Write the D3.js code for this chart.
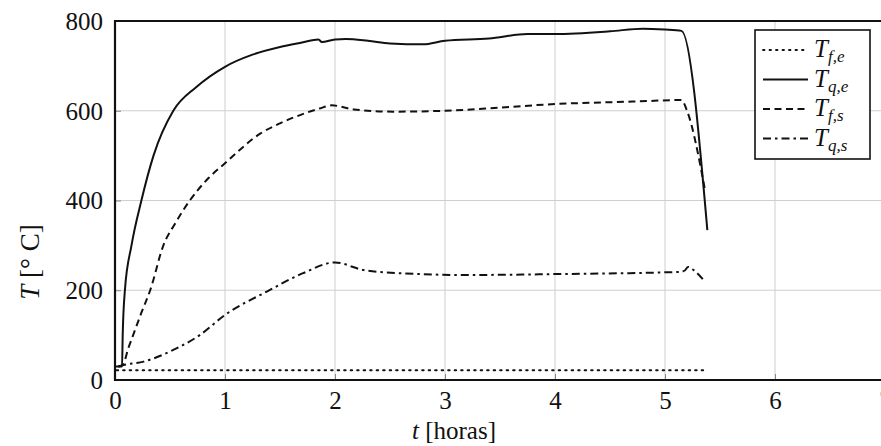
<!DOCTYPE html>
<meta charset="utf-8">
<html>
<head>
<title>Temperaturas</title>
</head>
<style>
  body { margin: 0; background: #fff; }
  svg { display: block; }
  .grid line { stroke: #cfcfcf; stroke-width: 1; }
  .curve { fill: none; stroke: #111; stroke-width: 2; stroke-linejoin: round; }
</style>
<script src="https://d3js.org/d3.v7.min.js"></script>
<body>
<svg width="881" height="446"></svg>
</body>
<script>
  var svg = d3.select("svg");
  var font = function (px) { return "font-family:'Liberation Serif';font-size:" + px + "px"; };

  // tick values
  var xTicks = [0, 1, 2, 3, 4, 5, 6, 7];
  var yTicks = [0, 200, 400, 600, 800];

  // series: [t (horas), T (°C)]
  var Tfe = [[0.015, 22], [1, 22], [2, 22], [3, 22], [4, 22], [5, 22], [5.36, 22]];
  var Tqe = [[0, 30], [0.064, 30], [0.07, 100], [0.09, 200], [0.15, 300], [0.24, 400], [0.35, 500],
             [0.53, 600], [0.74, 653], [1.0, 698], [1.25, 725], [1.5, 742], [1.7, 752], [1.85, 759],
             [1.88, 753], [2.0, 759], [2.1, 760], [2.3, 756], [2.5, 750], [2.8, 748], [3.0, 756],
             [3.4, 761], [3.75, 771], [4.0, 771], [4.5, 777], [4.8, 783], [5.0, 781], [5.15, 778],
             [5.385, 334]];
  var Tfs = [[0.03, 30], [0.07, 33], [0.12, 70], [0.165, 100], [0.24, 150], [0.32, 200], [0.44, 300],
             [0.55, 350], [0.68, 400], [0.85, 450], [1.0, 483], [1.32, 549], [1.5, 572], [1.7, 592],
             [1.86, 605], [1.97, 612], [2.17, 603], [2.53, 598], [3.0, 600], [3.5, 607], [4.0, 615],
             [4.5, 619], [4.77, 621], [5.15, 624], [5.2, 600], [5.36, 428]];
  var Tqs = [[0.03, 30], [0.07, 33], [0.26, 41], [0.53, 67], [0.77, 100], [1.0, 145], [1.38, 197],
             [1.71, 238], [2.0, 262], [2.26, 245], [2.59, 238], [3.2, 234], [4.0, 236], [5.14, 241],
             [5.18, 244], [5.21, 252], [5.26, 245], [5.35, 223]];

  var series = [
    {name: "f,e", data: Tfe, dash: "1.5,5", cap: "round"},
    {name: "q,e", data: Tqe, dash: null, cap: "butt"},
    {name: "f,s", data: Tfs, dash: "7,4.5", cap: "butt"},
    {name: "q,s", data: Tqs, dash: "8,4,2.5,4", cap: "butt"}
  ];

  var x = d3.scaleLinear().domain([0, 7]).range([115, 885]);
  var y = d3.scaleLinear().domain([0, 800]).range([380, 21]);

  // grid
  var grid = svg.append("g").attr("class", "grid");
  grid.selectAll(".gx").data(xTicks.slice(1, 7)).enter().append("line")
      .attr("x1", d => x(d)).attr("x2", d => x(d))
      .attr("y1", y(0)).attr("y2", y(800));
  grid.selectAll(".gy").data(yTicks.slice(1, 4)).enter().append("line")
      .attr("x1", x(0)).attr("x2", x(7))
      .attr("y1", d => y(d)).attr("y2", d => y(d));

  // axes (tick marks from d3, labels styled below)
  var xAxis = svg.append("g").attr("transform", "translate(0," + y(0) + ")")
      .call(d3.axisBottom(x).tickValues(xTicks).tickSize(-6).tickPadding(11).tickFormat(d3.format("d")));
  var yAxis = svg.append("g").attr("transform", "translate(" + x(0) + ",0)")
      .call(d3.axisLeft(y).tickValues(yTicks).tickSize(-6).tickPadding(12).tickFormat(d3.format("d")));
  [xAxis, yAxis].forEach(function (a) {
    a.attr("font-family", null).attr("font-size", null);
    a.select(".domain").remove();
    a.selectAll(".tick line").attr("stroke", "#888");
    a.selectAll(".tick text").attr("style", font(25)).attr("fill", "#111");
  });
  yAxis.selectAll(".tick text").attr("dy", "0.33em");

  // frame
  svg.append("path")
      .attr("d", "M" + x(7) + "," + y(800) + "H" + x(0) + "V" + y(0) + "H" + x(7))
      .attr("fill", "none").attr("stroke", "#111").attr("stroke-width", 2.2);

  // curves
  var line = d3.line().curve(d3.curveMonotoneX).x(d => x(d[0])).y(d => y(d[1]));
  svg.selectAll(".curve").data(series).enter().append("path")
      .attr("class", "curve")
      .attr("d", d => line(d.data))
      .attr("stroke-dasharray", d => d.dash)
      .attr("stroke-linecap", d => d.cap);

  // axis labels
  var xl = svg.append("text").attr("x", 454).attr("y", 439).attr("text-anchor", "middle")
      .attr("style", font(25)).attr("fill", "#111");
  xl.append("tspan").attr("font-style", "italic").text("t");
  xl.append("tspan").text(" [horas]");

  var yl = svg.append("text").attr("transform", "translate(39,262) rotate(-90)")
      .attr("text-anchor", "middle").attr("style", font(27)).attr("fill", "#111");
  yl.append("tspan").attr("font-style", "italic").text("T");
  yl.append("tspan").text(" [° C]");

  // legend
  var lg = svg.append("g");
  lg.append("rect").attr("x", 755).attr("y", 30).attr("width", 115).attr("height", 129)
      .attr("fill", "#fff").attr("stroke", "#111").attr("stroke-width", 1.6);
  var item = lg.selectAll(".item").data(series).enter().append("g")
      .attr("transform", (d, i) => "translate(0," + (50 + i * 29.5) + ")");
  item.append("line")
      .attr("x1", 763).attr("x2", 808).attr("y1", 0).attr("y2", 0)
      .attr("stroke", "#111").attr("stroke-width", 1.8)
      .attr("stroke-dasharray", d => d.dash).attr("stroke-linecap", d => d.cap);
  var lt = item.append("text").attr("x", 814).attr("y", 7)
      .attr("style", font(25) + ";font-style:italic").attr("fill", "#111");
  lt.append("tspan").text("T");
  lt.append("tspan").attr("style", "font-size:17px").attr("dy", 5).text(d => d.name);
</script>
</html>
